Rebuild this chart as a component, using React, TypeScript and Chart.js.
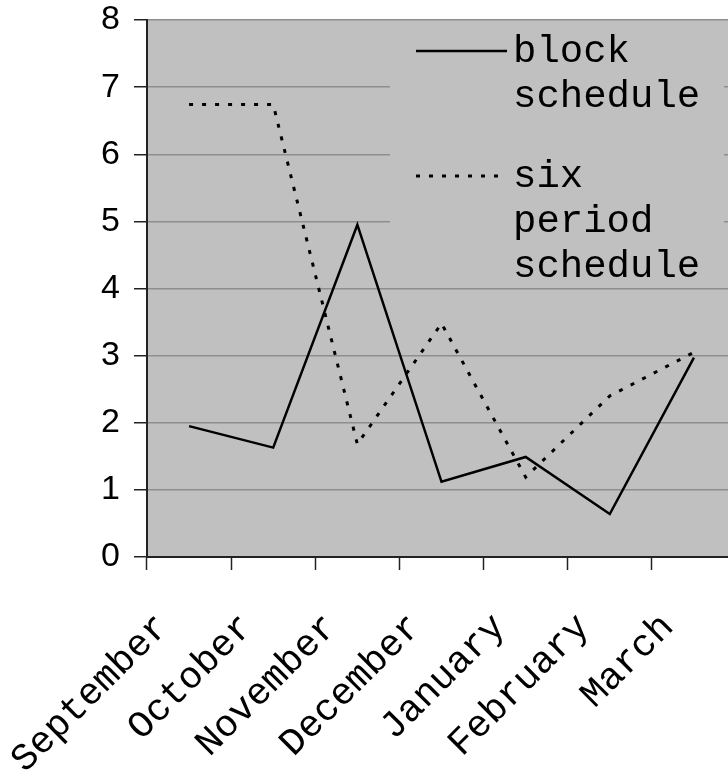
import React, { useEffect, useRef } from "react";
import { Chart, registerables } from "chart.js";

Chart.register(...registerables);

const categories = ["September", "October", "November", "December", "January", "February", "March"];
const blockSchedule = [1.95, 1.63, 4.95, 1.12, 1.49, 0.64, 2.97];
const sixPeriodSchedule = [6.74, 6.74, 1.68, 3.48, 1.19, 2.4, 3.05];
const seriesLabels = [["block", "schedule"], ["six", "period", "schedule"]];
const yMin = 0;
const yMax = 8;
const yStep = 1;

const PLOT_BG = "#C0C0C0";
const MONO = "'Liberation Mono', 'Courier New', monospace";

const legendPlugin = {
  id: "boxLegend",
  beforeDatasetsDraw(chart: any) {
    const ctx = chart.ctx;
    const area = chart.chartArea;
    ctx.save();
    ctx.fillStyle = PLOT_BG;
    ctx.fillRect(390, area.top + 1, 334, 265);
    ctx.font = "39px " + MONO;
    ctx.fillStyle = "#000";
    ctx.textAlign = "left";
    ctx.textBaseline = "alphabetic";
    const entryBase = [62, 187];
    chart.data.datasets.forEach((ds: any, i: number) => {
      const base = entryBase[i];
      ctx.strokeStyle = ds.borderColor;
      ctx.lineWidth = ds.borderWidth;
      ctx.setLineDash(ds.borderDash || []);
      ctx.beginPath();
      ctx.moveTo(416, base - 11);
      ctx.lineTo(507, base - 11);
      ctx.stroke();
      ctx.setLineDash([]);
      const lines: string[] = ds.legendLines;
      lines.forEach((t, j) => ctx.fillText(t, 513, base + j * 45));
    });
    ctx.restore();
  },
};

export default function App() {
  const ref = useRef<HTMLCanvasElement>(null);
  useEffect(() => {
    const canvas = ref.current!;
    const chart = new Chart(canvas, {
      type: "line",
      data: {
        labels: categories,
        datasets: [
          {
            label: seriesLabels[0].join(" "),
            legendLines: seriesLabels[0],
            data: blockSchedule,
            borderColor: "#000",
            borderWidth: 2.5,
            pointRadius: 0,
            tension: 0,
            fill: false,
          } as any,
          {
            label: seriesLabels[1].join(" "),
            legendLines: seriesLabels[1],
            data: sixPeriodSchedule,
            borderColor: "#000",
            borderWidth: 3,
            borderDash: [4, 9],
            pointRadius: 0,
            tension: 0,
            fill: false,
          } as any,
        ],
      },
      options: {
        responsive: false,
        animation: false,
        events: [],
        layout: { padding: { top: 20, right: 0, left: 0, bottom: 0 } },
        plugins: {
          legend: { display: false },
          tooltip: { enabled: false },
          title: { display: false },
        },
        scales: {
          x: {
            type: "category",
            offset: true,
            afterFit: (scale: any) => {
              scale.height = 219;
              scale.paddingLeft = 0;
              scale.paddingRight = 0;
              scale.paddingTop = 0;
              scale.paddingBottom = 0;
            },
            grid: {
              display: true,
              drawOnChartArea: false,
              offset: true,
              tickLength: 13,
              tickColor: "#222",
              tickWidth: 1.5,
            },
            border: { display: true, color: "#222", width: 2 },
            ticks: {
              autoSkip: false,
              minRotation: 45,
              maxRotation: 45,
              padding: 35,
              labelOffset: -26,
              color: "#000",
              font: { family: MONO, size: 38 },
            },
          },
          y: {
            min: yMin,
            max: yMax,
            afterFit: (scale: any) => {
              scale.width = 147;
              scale.paddingTop = 0;
              scale.paddingBottom = 0;
              scale.paddingLeft = 0;
              scale.paddingRight = 0;
            },
            grid: {
              color: "#8E8E8E",
              lineWidth: 1.5,
              tickLength: 13,
              tickColor: "#222",
              tickWidth: 1.5,
            },
            border: { display: true, color: "#222", width: 2 },
            ticks: {
              stepSize: yStep,
              padding: 14,
              color: "#000",
              font: { family: "'Liberation Sans', Arial, sans-serif", size: 34 },
            },
          },
        },
      },
      plugins: [
        {
          id: "plotBg",
          beforeDraw(c: any) {
            const a = c.chartArea;
            c.ctx.save();
            c.ctx.fillStyle = PLOT_BG;
            c.ctx.fillRect(a.left, a.top, a.right - a.left, a.bottom - a.top);
            c.ctx.restore();
          },
        },
        legendPlugin,
      ],
    } as any);
    return () => chart.destroy();
  }, []);
  return (
    <div style={{ position: "fixed", left: 0, top: 0, width: 728, height: 776, overflow: "hidden", background: "#fff" }}>
      <canvas ref={ref} width={736} height={776} style={{ display: "block" }} />
    </div>
  );
}
